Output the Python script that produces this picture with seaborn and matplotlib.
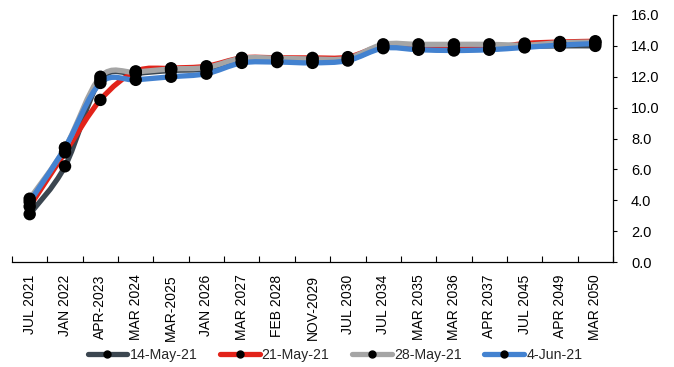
import numpy as np
import pandas as pd
import matplotlib
matplotlib.use("Agg")
import matplotlib.pyplot as plt
from matplotlib.path import Path
from matplotlib.patches import PathPatch
from matplotlib.lines import Line2D
import seaborn as sns

# Maturity buckets along the curve
categories = ["JUL 2021", "JAN 2022", "APR-2023", "MAR 2024", "MAR-2025", "JAN 2026",
              "MAR 2027", "FEB 2028", "NOV-2029", "JUL 2030", "JUL 2034", "MAR 2035",
              "MAR 2036", "APR 2037", "JUL 2045", "APR 2049", "MAR 2050"]

may14 = [3.1, 6.2, 11.8, 12.2, 12.4, 12.5, 13.0, 13.0, 13.0, 13.1, 13.9, 13.8,
         13.75, 13.8, 13.95, 14.0, 14.0]
may21 = [3.6, 7.1, 10.5, 12.35, 12.55, 12.68, 13.22, 13.23, 13.22, 13.27, 14.0, 13.85,
         13.85, 13.85, 14.15, 14.25, 14.3]
may28 = [4.1, 7.4, 12.0, 12.3, 12.5, 12.6, 13.2, 13.2, 13.15, 13.2, 14.1, 14.1,
         14.1, 14.1, 14.05, 14.2, 14.25]
jun04 = [3.9, 7.4, 11.6, 11.8, 12.0, 12.2, 12.9, 12.95, 12.9, 13.05, 13.85, 13.75,
         13.7, 13.75, 13.9, 14.05, 14.15]

series_names = ["14-May-21", "21-May-21", "28-May-21", "4-Jun-21"]
series_values = [may14, may21, may28, jun04]
series_colors = ["#3B4650", "#E2231A", "#A5A5A5", "#4382D0"]

y_ticks = [0, 2, 4, 6, 8, 10, 12, 14, 16]

rows = []
for name, vals in zip(series_names, series_values):
    for i, v in enumerate(vals):
        rows.append({"pos": i, "yield": v, "series": name})
df = pd.DataFrame(rows)

sns.set_theme(style="white")
plt.rcParams["font.family"] = ["Liberation Sans", "DejaVu Sans"]

fig = plt.figure(figsize=(6.74, 3.67), dpi=100)
ax = fig.add_axes([12 / 674, 1 - 262 / 367, (613 - 12) / 674, (262 - 15) / 367])


def smooth_path(xs, ys):
    """Cubic Bezier path through the points (Catmull-Rom style smoothing)."""
    pts = np.column_stack([xs, ys]).astype(float)
    n = len(pts)
    verts = [pts[0]]
    codes = [Path.MOVETO]
    for i in range(n - 1):
        p0 = pts[i - 1] if i > 0 else pts[i]
        p1 = pts[i]
        p2 = pts[i + 1]
        p3 = pts[i + 2] if i + 2 < n else pts[i + 1]
        c1 = p1 + (p2 - p0) / 6.0
        c2 = p2 - (p3 - p1) / 6.0
        verts += [c1, c2, p2]
        codes += [Path.CURVE4] * 3
    return Path(verts, codes)


for name, color in zip(series_names, series_colors):
    sub = df[df["series"] == name]
    patch = PathPatch(smooth_path(sub["pos"].values, sub["yield"].values),
                      facecolor="none", edgecolor=color, lw=3.8,
                      capstyle="round", joinstyle="round", zorder=2)
    ax.add_patch(patch)

sns.scatterplot(data=df, x="pos", y="yield", hue="series", palette=["black"] * 4,
                s=80, edgecolor="none", legend=False, ax=ax, zorder=3)

ax.set_xlim(-0.5, len(categories) - 0.5)
ax.set_ylim(0, 16)
ax.set_xlabel("")
ax.set_ylabel("")

# Category labels centred, tick marks on the boundaries
ax.set_xticks(range(len(categories)))
ax.set_xticklabels(categories, rotation=90, fontsize=10, color="black")
ax.tick_params(axis="x", which="major", length=0, pad=9)
ax.set_xticks(np.arange(-0.5, len(categories), 1.0), minor=True)
ax.tick_params(axis="x", which="minor", direction="in", length=4, width=0.8,
               color="black", bottom=True)

ax.yaxis.tick_right()
ax.set_yticks(y_ticks)
ax.set_yticklabels([f"{t:.1f}" for t in y_ticks], fontsize=10.5, color="black")
ax.tick_params(axis="y", direction="out", length=3, width=0.8, color="black",
               right=True, left=False, pad=10)

for side in ["top", "left"]:
    ax.spines[side].set_visible(False)
for side in ["bottom", "right"]:
    ax.spines[side].set_visible(True)
    ax.spines[side].set_color("black")
    ax.spines[side].set_linewidth(0.9)
ax.grid(False)

handles = [Line2D([0], [0], color=c, lw=3.8, marker="o", markersize=5,
                  markerfacecolor="black", markeredgecolor="black")
           for c in series_colors]
fig.legend(handles, series_names, loc="center", bbox_to_anchor=(335 / 674, 12 / 367),
           ncol=4, frameon=False, fontsize=10.2, handlelength=2.8, handletextpad=0.15,
           columnspacing=1.6, borderaxespad=0)

fig.savefig("out.png", dpi=100)
